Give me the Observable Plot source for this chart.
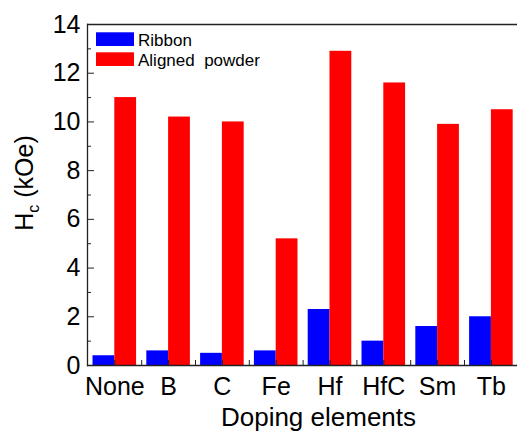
<!DOCTYPE html>
<html><head><meta charset="utf-8">
<script src="https://cdn.jsdelivr.net/npm/d3@7"></script>
<script src="https://cdn.jsdelivr.net/npm/@observablehq/plot@0.6"></script>
<style>html,body{margin:0;padding:0;overflow:hidden;background:#fff}</style>
</head><body><div id="chart"></div>
<script>
const categories = ["None", "B", "C", "Fe", "Hf", "HfC", "Sm", "Tb"];
const ribbon = [0.4, 0.6, 0.5, 0.6, 2.3, 1.0, 1.6, 2.0];
const powder = [11.0, 10.2, 10.0, 5.2, 12.9, 11.6, 9.9, 10.5];
const yTicks = [0, 2, 4, 6, 8, 10, 12, 14];
const yMinor = [1, 3, 5, 7, 9, 11, 13];
const seriesNames = ["Ribbon", "Aligned  powder"];
const xTitle = "Doping elements";

const data = categories.map((c, i) => ({cat: c, ribbon: ribbon[i], powder: powder[i]}));

const x0 = 87.4, x1 = 517.8;
const step = (x1 - x0) / categories.length;
const pin = 0.19;
const bw = step * (1 - pin);
const font = "'Liberation Sans', Arial, sans-serif";
const lineColor = "#222";

const chart = Plot.plot({
  width: 517, height: 431,
  marginLeft: 87, marginRight: 0, marginTop: 24, marginBottom: 66,
  style: {fontFamily: font, background: "#fff", overflow: "visible", color: "#000"},
  x: {domain: categories, range: [x0, x1], paddingInner: pin, paddingOuter: pin / 2, round: false, label: null},
  y: {domain: [0, 14], label: null},
  marks: [
    Plot.barY(data, {x: "cat", y: "ribbon", fill: "#0000ff", insetRight: bw / 2}),
    Plot.barY(data, {x: "cat", y: "powder", fill: "#ff0000", insetLeft: bw / 2}),
    Plot.ruleY([0, 14], {stroke: lineColor, strokeWidth: 1.3}),
    Plot.frame({anchor: "left", stroke: lineColor, strokeWidth: 1.3}),
    Plot.axisY({ticks: yTicks, tickSize: 0, tickPadding: 7, fontSize: 25, label: null, tickFormat: d => String(d)}),
    Plot.axisY({ticks: yTicks, tickSize: 7, dx: 7, tickFormat: () => "", label: null, stroke: lineColor}),
    Plot.axisY({ticks: yMinor, tickSize: 4, dx: 4, tickFormat: () => "", label: null, stroke: lineColor}),
    Plot.axisX({ticks: categories, tickSize: 0, tickPadding: 12, fontSize: 25, label: null}),
    Plot.axisX({ticks: categories, tickSize: 5, dy: -5, tickFormat: () => "", label: null, stroke: lineColor}),
    Plot.axisX({ticks: categories, tickSize: 5, dy: -5, dx: step / 2, tickFormat: () => "", label: null, stroke: lineColor}),
    Plot.text([xTitle], {frameAnchor: "bottom", dx: 16, dy: 42, lineAnchor: "top", fontSize: 26, fill: "#000"})
  ]
});
document.getElementById("chart").appendChild(chart);

const svg = d3.select(chart);
// Y axis title with subscript
const yt = svg.append("text")
  .attr("transform", "translate(33,183) rotate(-90)")
  .attr("text-anchor", "middle")
  .attr("font-family", font)
  .attr("font-size", 25)
  .attr("fill", "#000")
  .style("white-space", "pre");
yt.append("tspan").text("H");
yt.append("tspan").attr("font-size", 16).attr("dy", 6).text("c");
yt.append("tspan").attr("dy", -6).text(" (kOe)");

// Legend
const colors = ["#0000ff", "#ff0000"];
const lg = svg.append("g").attr("font-family", font).attr("font-size", 17).attr("text-anchor", "start");
seriesNames.forEach((name, i) => {
  lg.append("rect").attr("x", 96).attr("y", 32.3 + 20 * i).attr("width", 38).attr("height", 13.7).attr("fill", colors[i]);
  lg.append("text").attr("x", 138).attr("y", 45.5 + 20 * i).attr("fill", "#000").attr("text-anchor", "start").style("white-space", "pre").text(name);
});
</script>
</body></html>
